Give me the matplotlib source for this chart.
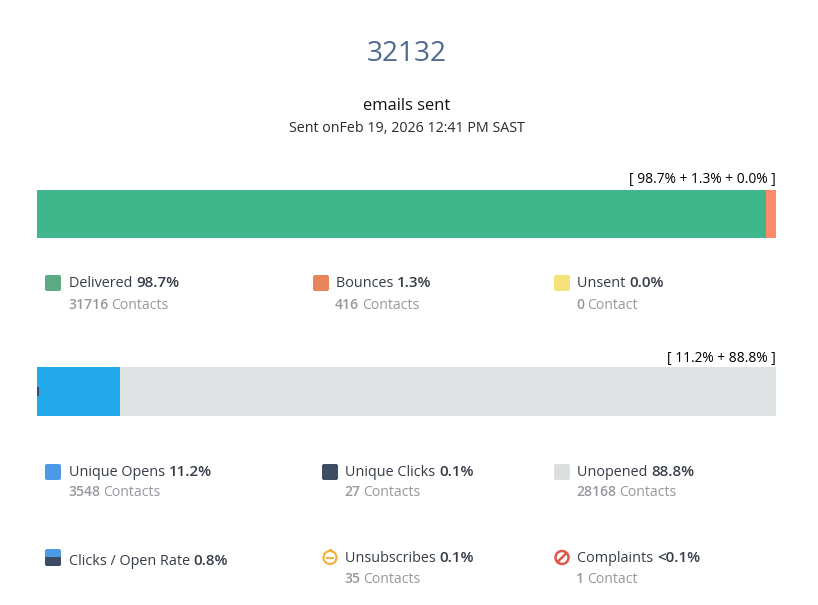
import matplotlib
matplotlib.use("Agg")
import matplotlib.pyplot as plt
from matplotlib.patches import FancyBboxPatch, Circle, Rectangle

plt.rcParams['font.family'] = ['Open Sans', 'DejaVu Sans']

W, H = 818, 605

# ---- data ----
delivery_values = [98.7, 1.3, 0.0]
delivery_colors = ['#3fb68b', '#ff8a6b', '#f5e27a']
delivery_note = '[ 98.7% + 1.3% + 0.0% ]'

opens_values = [11.2, 88.8]
opens_colors = ['#22a7e9', '#dfe2e3']
clicks_value = 0.27   # thin dark mark at the start of the bar, as wide as drawn
opens_note = '[ 11.2% + 88.8% ]'

labels = ['Delivered', 'Bounces', 'Unsent',
          'Unique Opens', 'Unique Clicks', 'Unopened',
          'Clicks / Open Rate', 'Unsubscribes', 'Complaints']
percents = ['98.7%', '1.3%', '0.0%',
            '11.2%', '0.1%', '88.8%',
            '0.8%', '0.1%', '<0.1%']
counts = ['31716', '416', '0',
          '3548', '27', '28168',
          None, '35', '1']
units = ['Contacts', 'Contacts', 'Contact',
         'Contacts', 'Contacts', 'Contacts',
         None, 'Contacts', 'Contact']

# text x, label baseline, count baseline, icon x, icon y (top), for each item
text_x = [69, 336, 577, 69, 345, 577, 69, 345, 577]
label_y = [287, 287, 287, 476, 476, 476, 565, 562, 562]
count_y = [309, 309, 309, 496, 496, 496, None, 583, 583]
icon_x = [45, 313, 554, 45, 322, 554, 45, 322, 554]
icon_y = [275, 275, 275, 464, 464, 464, 549, 549, 549]
icon_color = ['#5dab85', '#e8855c', '#f5e27a', '#4d9be6', '#3c4d63', '#dcdfe0',
              None, None, None]

DARK = '#363c47'
GREY = '#95999e'

fig = plt.figure(figsize=(W / 100, H / 100), dpi=100, facecolor='white')

# pixel canvas for the text and icons
bg = fig.add_axes([0, 0, 1, 1])
bg.set_xlim(0, W)
bg.set_ylim(H, 0)
bg.axis('off')


def bar_axes(top, bottom):
    ax = fig.add_axes([37 / W, 1 - bottom / H, 739 / W, (bottom - top) / H])
    ax.set_xlim(0, 100)
    ax.set_ylim(-0.5, 0.5)
    ax.axis('off')
    return ax


# ---- stacked bars ----
ax1 = bar_axes(190, 238)
left = 0
for v, c in zip(delivery_values, delivery_colors):
    ax1.barh(0, v, left=left, height=1, color=c, linewidth=0)
    left += v

ax2 = bar_axes(367, 416)
left = 0
for v, c in zip(opens_values, opens_colors):
    ax2.barh(0, v, left=left, height=1, color=c, linewidth=0)
    left += v
ax2.barh(0, clicks_value, height=0.2, color='#3c4d63', linewidth=0)

# ---- headings ----
bg.text(406.5, 61, '32132', ha='center', va='baseline', fontsize=20.2, color='#50698f')
bg.text(407, 110, 'emails sent', ha='center', va='baseline', fontsize=11.9, color='#111111')
bg.text(406.5, 132, 'Sent onFeb 19, 2026 12:41 PM SAST', ha='center', va='baseline',
        fontsize=10.3, color='#2b2b2b')
bg.text(776, 183, delivery_note, ha='right', va='baseline', fontsize=9.9, color='black')
bg.text(776, 362, opens_note, ha='right', va='baseline', fontsize=9.9, color='black')


def two_part(x, y, first, second, color, size=10.4):
    # regular word followed by the semibold figure on one line
    t = bg.text(x, y, first + ' ', va='baseline', fontsize=size, color=color)
    box = t.get_window_extent(fig.canvas.get_renderer())
    bg.text(box.x1, y, second, va='baseline', fontsize=size + 0.5, color=color, fontweight=600)


def two_part_count(x, y, count, unit):
    t = bg.text(x - 1, y, count, va='baseline', fontsize=10.1, color=GREY, fontweight=600)
    box = t.get_window_extent(fig.canvas.get_renderer())
    bg.text(box.x1 + 3, y, unit, va='baseline', fontsize=10.1, color=GREY)


def square(x, y, color, h=16):
    bg.add_patch(FancyBboxPatch((x + 2, y + 2), 12, h - 4, boxstyle='round,pad=2,rounding_size=2',
                                facecolor=color, edgecolor='none'))


# ---- legend items ----
for i, name in enumerate(labels):
    two_part(text_x[i], label_y[i], name, percents[i], DARK)
    if counts[i] is not None:
        two_part_count(text_x[i], count_y[i], counts[i], units[i])
    if icon_color[i] is not None:
        square(icon_x[i], icon_y[i], icon_color[i])

# clicks / open rate: blue square with a dark lower half
clip = FancyBboxPatch((47, 551), 12, 13, boxstyle='round,pad=2,rounding_size=2',
                      facecolor='#4d9be6', edgecolor='none')
bg.add_patch(clip)
low = Rectangle((45, 557), 16, 9, facecolor='#3c4d63', edgecolor='none')
bg.add_patch(low)
low.set_clip_path(clip)

# unsubscribes: ring with a minus and a small knob on top
bg.add_patch(Circle((330, 557.5), 6.5, facecolor='none', edgecolor='#f0b240', linewidth=1.6))
bg.add_patch(Rectangle((326, 556.5), 8, 2, facecolor='#f0b240', edgecolor='none'))
bg.add_patch(Rectangle((328.5, 548.5), 3, 2, facecolor='#f0b240', edgecolor='none'))

# complaints: prohibited sign
bg.add_patch(Circle((562, 557.5), 6.5, facecolor='none', edgecolor='#e0574a', linewidth=1.8))
bg.plot([557.5, 566.5], [562, 553], color='#e0574a', linewidth=1.8, solid_capstyle='butt')

fig.savefig('out.png', dpi=100, facecolor='white')
